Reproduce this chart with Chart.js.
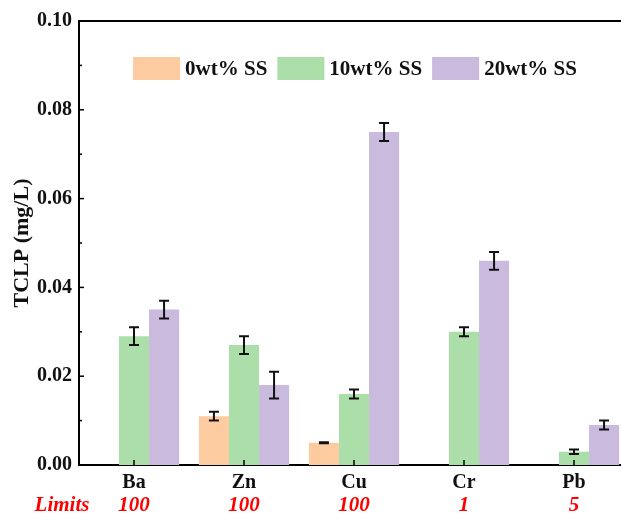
<!DOCTYPE html>
<html><head><meta charset="utf-8">
<script src="https://cdn.jsdelivr.net/npm/chart.js@4/dist/chart.umd.min.js"></script>
<style>html,body{margin:0;padding:0;background:#fff;overflow:hidden;width:621px;height:519px}canvas{display:block}</style>
</head><body>
<canvas id="c" width="640" height="519"></canvas>
<script>
const categories = ["Ba", "Zn", "Cu", "Cr", "Pb"];
const limits = ["100", "100", "100", "1", "5"];
const seriesNames = ["0wt% SS", "10wt% SS", "20wt% SS"];
const ss0 = [null, 0.011, 0.005, null, null];
const ss0Err = [0, 0.001, 0.0001, 0, 0];
const ss10 = [0.029, 0.027, 0.016, 0.030, 0.003];
const ss10Err = [0.002, 0.002, 0.001, 0.001, 0.0005];
const ss20 = [0.035, 0.018, 0.075, 0.046, 0.009];
const ss20Err = [0.002, 0.003, 0.002, 0.002, 0.001];
const yTicks = [0, 0.02, 0.04, 0.06, 0.08, 0.10];
const colors = ["#FDCBA0", "#ACDEAA", "#CABBDE"];

const FONT = "'Liberation Serif', 'Times New Roman', serif";
const errs = [ss0Err, ss10Err, ss20Err];

const customDraw = {
  id: 'customDraw',
  afterDatasetsDraw(chart) {
    const ctx = chart.ctx;
    const ys = chart.scales.y, xs = chart.scales.x;
    const ca = chart.chartArea;
    ctx.save();
    // error bars
    ctx.strokeStyle = '#111';
    ctx.lineWidth = 2;
    chart.data.datasets.forEach((ds, di) => {
      const meta = chart.getDatasetMeta(di);
      ds.data.forEach((v, i) => {
        if (v === null) return;
        const e = errs[di][i];
        const x = meta.data[i].x;
        const y1 = ys.getPixelForValue(v + e), y2 = ys.getPixelForValue(v - e);
        ctx.beginPath();
        ctx.moveTo(x, y1); ctx.lineTo(x, y2);
        ctx.moveTo(x - 5, y1); ctx.lineTo(x + 5, y1);
        ctx.moveTo(x - 5, y2); ctx.lineTo(x + 5, y2);
        ctx.stroke();
      });
    });
    // top frame line
    ctx.strokeStyle = '#000';
    ctx.lineWidth = 2;
    ctx.beginPath();
    ctx.moveTo(ca.left - 1, ca.top); ctx.lineTo(ca.right + 20, ca.top);
    ctx.stroke();
    // inward ticks on y axis
    ctx.lineWidth = 1.5;
    for (let k = 0; k <= 10; k++) {
      const v = k * 0.01;
      const y = ys.getPixelForValue(v);
      const len = (k % 2 === 0) ? 5 : 3;
      ctx.beginPath();
      ctx.moveTo(ca.left, y); ctx.lineTo(ca.left + len, y);
      ctx.stroke();
    }
    // inward ticks on x axis
    categories.forEach((c, i) => {
      const x = xs.getPixelForValue(i);
      ctx.beginPath();
      ctx.moveTo(x, ca.bottom); ctx.lineTo(x, ca.bottom - 5);
      ctx.stroke();
    });
    // legend (inside plot, centered)
    ctx.font = "bold 21px " + FONT;
    ctx.textBaseline = 'middle';
    ctx.textAlign = 'left';
    const boxW = 47, boxH = 23, gapT = 5, gapI = 10;
    const widths = seriesNames.map(n => ctx.measureText(n).width);
    const total = widths.reduce((a, w) => a + boxW + gapT + w, 0) + gapI * (seriesNames.length - 1);
    let lx = (ca.left + ca.right) / 2 + 1 - total / 2;
    const ly = ca.top + 47.5;
    seriesNames.forEach((n, i) => {
      ctx.fillStyle = colors[i];
      ctx.fillRect(lx, ly - boxH / 2, boxW, boxH);
      ctx.fillStyle = '#111';
      ctx.fillText(n, lx + boxW + gapT, ly + 1);
      lx += boxW + gapT + widths[i] + gapI;
    });
    // limits row
    ctx.fillStyle = '#FF0000';
    ctx.font = "italic bold 21px " + FONT;
    ctx.textAlign = 'center';
    ctx.textBaseline = 'middle';
    ctx.fillText('Limits', 62, 506);
    limits.forEach((l, i) => {
      ctx.fillText(l, xs.getPixelForValue(i), 506);
    });
    ctx.restore();
  }
};

new Chart(document.getElementById('c'), {
  type: 'bar',
  data: {
    labels: categories,
    datasets: seriesNames.map((n, i) => ({
      label: n,
      data: [ss0, ss10, ss20][i],
      backgroundColor: colors[i],
      borderWidth: 0,
      barPercentage: 1.0,
      categoryPercentage: 0.82
    }))
  },
  options: {
    responsive: false,
    animation: false,
    devicePixelRatio: 1,
    layout: { padding: { left: 0, top: 21, right: 11, bottom: 0 } },
    plugins: {
      tooltip: { enabled: false },
      legend: { display: false }
    },
    scales: {
      x: {
        grid: { display: false, drawTicks: false },
        border: { display: true, color: '#000', width: 2 },
        ticks: { color: '#111', padding: 6, font: { family: FONT, size: 20, weight: 'bold' } },
        afterFit(s) { s.height = 519 - 465; }
      },
      y: {
        min: 0, max: 0.1,
        grid: { display: false, drawTicks: false },
        border: { display: true, color: '#000', width: 2 },
        afterBuildTicks(s) { s.ticks = yTicks.map(v => ({ value: v })); },
        ticks: {
          color: '#111', padding: 7,
          font: { family: FONT, size: 20, weight: 'bold' },
          callback: v => Number(v).toFixed(2)
        },
        title: {
          display: true, text: 'TCLP (mg/L)', color: '#111',
          font: { family: FONT, size: 22, weight: 'bold' },
          padding: { top: 9, bottom: 0 }
        },
        afterFit(s) { s.width = 79; }
      }
    }
  },
  plugins: [customDraw]
});
</script>
</body></html>
